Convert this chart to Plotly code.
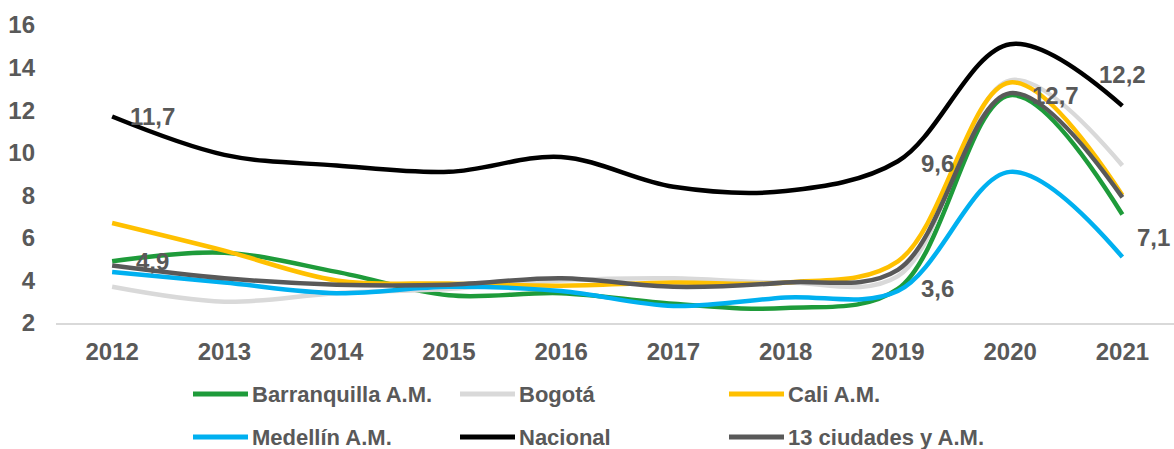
import plotly.graph_objects as go

years = ['2012', '2013', '2014', '2015', '2016', '2017', '2018', '2019', '2020', '2021']

barranquilla = [4.9, 5.3, 4.4, 3.3, 3.4, 2.9, 2.7, 3.6, 12.7, 7.1]
bogota = [3.7, 3.0, 3.4, 3.6, 4.0, 4.1, 3.9, 4.2, 13.4, 9.4]
cali = [6.7, 5.4, 4.0, 3.85, 3.75, 3.9, 3.9, 4.9, 13.3, 8.0]
medellin = [4.4, 3.9, 3.4, 3.7, 3.5, 2.8, 3.2, 3.5, 9.1, 5.1]
nacional = [11.7, 9.9, 9.4, 9.1, 9.8, 8.4, 8.2, 9.6, 15.1, 12.2]
trece = [4.7, 4.1, 3.8, 3.8, 4.1, 3.7, 3.9, 4.5, 12.8, 7.9]

series = [
    ("Barranquilla A.M.", barranquilla, "#1e9b3a"),
    ("Bogotá", bogota, "#d9d9d9"),
    ("Cali A.M.", cali, "#ffc000"),
    ("Medellín A.M.", medellin, "#00b0f0"),
    ("Nacional", nacional, "#000000"),
    ("13 ciudades y A.M.", trece, "#595959"),
]

# data labels shown in the original: (values, year index, xshift, yshift)
labels = [
    (nacional, 0, 40, 0),
    (barranquilla, 0, 40, 0),
    (nacional, 7, 40, -2),
    (barranquilla, 7, 40, 0),
    (barranquilla, 8, 45, 0),
    (nacional, 9, 0, 31),
    (barranquilla, 9, 31, -23),
]

W, H = 1174, 449
L, R, T, B = 56, 0, 25, 126
TXT = "#595959"
FONT = "Liberation Sans"

fig = go.Figure()
for name, vals, col in series:
    fig.add_trace(go.Scatter(
        x=years, y=vals, name=name, mode="lines",
        line=dict(color=col, width=4.5, shape="spline", smoothing=1),
        showlegend=False))

for vals, i, dx, dy in labels:
    # category axis: annotation x given as the category index
    fig.add_annotation(x=i, y=vals[i], xref="x", yref="y",
                       text=f"{vals[i]:.1f}".replace(".", ","),
                       showarrow=False, xshift=dx, yshift=dy,
                       font=dict(family=FONT, size=24, color=TXT, weight="bold"))

# legend drawn by hand, 3 columns x 2 rows, longer line samples like Excel
pw = W - L - R
ph = H - T - B
def px(x):
    return (x - L) / pw
def py(y):
    return (H - B - y) / ph

cols = [193, 460, 729]
rows = [394, 437]
for k, (name, vals, col) in enumerate(series):
    x0 = cols[k % 3]
    y0 = rows[k // 3]
    fig.add_shape(type="line", xref="paper", yref="paper",
                  x0=px(x0), x1=px(x0 + 55), y0=py(y0), y1=py(y0),
                  line=dict(color=col, width=5))
    fig.add_annotation(x=px(x0 + 57), y=py(y0), xref="paper", yref="paper",
                       text=name, showarrow=False, xanchor="left", yanchor="middle",
                       font=dict(family=FONT, size=22, color=TXT, weight="bold"))

fig.update_layout(
    width=W, height=H,
    margin=dict(l=L, r=R, t=T, b=B),
    paper_bgcolor="white", plot_bgcolor="white",
    font=dict(family=FONT, color=TXT),
    xaxis=dict(type="category", range=[-0.5, 9.46], showgrid=False,
               showline=True, linecolor="#d9d9d9", linewidth=1.5,
               ticks="", ticklabelstandoff=6,
               tickfont=dict(family=FONT, size=24, color=TXT, weight="bold")),
    yaxis=dict(range=[2, 16], dtick=2, showgrid=False, zeroline=False,
               showline=False, ticks="", ticklabelstandoff=20,
               tickfont=dict(family=FONT, size=24, color=TXT, weight="bold")),
)

fig.write_html("out.html", config={"displayModeBar": False},
               post_script="document.body.style.margin='0';")
